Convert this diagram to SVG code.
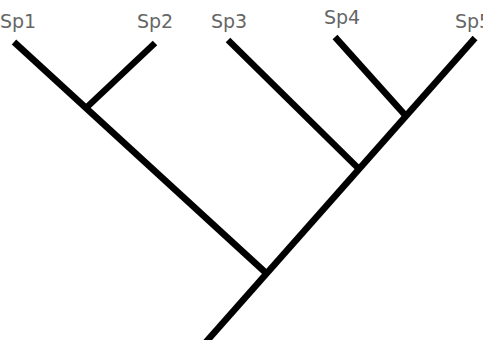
<svg xmlns="http://www.w3.org/2000/svg" width="483" height="340" viewBox="0 0 483 340">
<style>
.lbl{font-family:"DejaVu Sans",Verdana,sans-serif;font-size:19px;fill:#666}
.br{stroke:#000;stroke-width:6.5;fill:none;stroke-linecap:butt}
</style>
<rect width="483" height="340" fill="#fff"/>
<g id="edges">
<line class="br" x1="14" y1="42" x2="266" y2="273"/>
<line class="br" x1="155" y1="43" x2="86" y2="108"/>
<line class="br" x1="228" y1="40" x2="358" y2="168"/>
<line class="br" x1="335" y1="37" x2="405" y2="115"/>
<line class="br" x1="475" y1="38" x2="206" y2="342"/>
</g>
<g id="sp1"><text class="lbl" x="0" y="27.5">Sp1</text></g>
<g id="sp2"><text class="lbl" x="137" y="27.5">Sp2</text></g>
<g id="sp3"><text class="lbl" x="211" y="27.5">Sp3</text></g>
<g id="sp4"><text class="lbl" x="324" y="23.5">Sp4</text></g>
<g id="sp5"><text class="lbl" x="455" y="27.5">Sp5</text></g>
</svg>
